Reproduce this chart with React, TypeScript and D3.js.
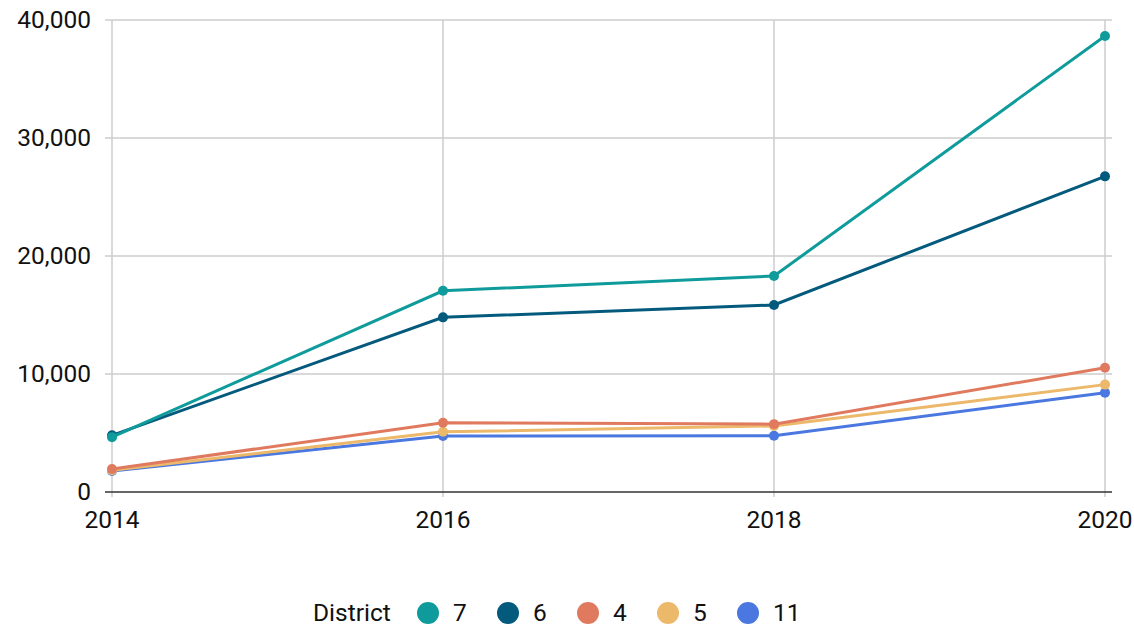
import React, { useEffect, useRef } from "react";
import * as d3 from "d3";

const years = [2014, 2016, 2018, 2020];
const districts = ["7", "6", "4", "5", "11"];
const colors = ["#0f9b9b", "#045a7d", "#e07a5f", "#ecb86a", "#4a78e0"];
const values7 = [4650, 17050, 18300, 38650];
const values6 = [4800, 14800, 15850, 26750];
const values4 = [1950, 5870, 5750, 10530];
const values5 = [1850, 5100, 5600, 9100];
const values11 = [1780, 4750, 4770, 8420];
const yTicks = [0, 10000, 20000, 30000, 40000];

const App = () => {
  const ref = useRef<SVGSVGElement>(null);

  useEffect(() => {
    const svg = d3.select(ref.current);
    svg.selectAll("*").remove();
    const font = "Roboto, sans-serif";
    const fontSize = 24.5;

    const x = d3.scaleLinear().domain([2014, 2020]).range([112, 1105]);
    const y = d3.scaleLinear().domain([0, 40000]).range([492, 20]);

    // gridlines
    svg
      .append("g")
      .selectAll("line")
      .data(yTicks.slice(1))
      .enter()
      .append("line")
      .attr("x1", 105)
      .attr("x2", 1112)
      .attr("y1", (d) => y(d))
      .attr("y2", (d) => y(d))
      .attr("stroke", "#cccccc")
      .attr("stroke-width", 1.5);

    svg
      .append("g")
      .selectAll("line")
      .data(years)
      .enter()
      .append("line")
      .attr("x1", (d) => x(d))
      .attr("x2", (d) => x(d))
      .attr("y1", 20)
      .attr("y2", 497)
      .attr("stroke", "#cccccc")
      .attr("stroke-width", 1.5);

    // baseline
    svg
      .append("line")
      .attr("x1", 105)
      .attr("x2", 1112)
      .attr("y1", y(0))
      .attr("y2", y(0))
      .attr("stroke", "#333333")
      .attr("stroke-width", 1.5);

    // y labels
    svg
      .append("g")
      .selectAll("text")
      .data(yTicks)
      .enter()
      .append("text")
      .attr("x", 91)
      .attr("y", (d) => y(d) + 8)
      .attr("text-anchor", "end")
      .attr("font-family", font)
      .attr("font-size", fontSize)
      .attr("fill", "#111")
      .text((d) => d3.format(",")(d));

    // x labels
    svg
      .append("g")
      .selectAll("text")
      .data(years)
      .enter()
      .append("text")
      .attr("x", (d) => x(d))
      .attr("y", 528)
      .attr("text-anchor", "middle")
      .attr("font-family", font)
      .attr("font-size", fontSize)
      .attr("fill", "#111")
      .text((d) => d);

    const series = [values7, values6, values4, values5, values11];
    const line = d3
      .line<number>()
      .x((_, i) => x(years[i]))
      .y((d) => y(d));

    // draw in reverse so teal sits on top
    series
      .map((vals, i) => ({ vals, color: colors[i] }))
      .reverse()
      .forEach(({ vals, color }) => {
        const g = svg.append("g");
        g.append("path")
          .datum(vals)
          .attr("d", line)
          .attr("fill", "none")
          .attr("stroke", color)
          .attr("stroke-width", 3);
        g.selectAll("circle")
          .data(vals)
          .enter()
          .append("circle")
          .attr("cx", (_, i) => x(years[i]))
          .attr("cy", (d) => y(d))
          .attr("r", 5)
          .attr("fill", color);
      });

    // legend
    const legend = svg.append("g");
    legend
      .append("text")
      .attr("x", 313)
      .attr("y", 621)
      .attr("font-family", font)
      .attr("font-size", fontSize)
      .attr("fill", "#111")
      .text("District");
    districts.forEach((d, i) => {
      const cx = 428 + i * 80;
      legend
        .append("circle")
        .attr("cx", cx)
        .attr("cy", 613)
        .attr("r", 11)
        .attr("fill", colors[i]);
      legend
        .append("text")
        .attr("x", cx + 25)
        .attr("y", 621)
        .attr("font-family", font)
        .attr("font-size", fontSize)
        .attr("fill", "#111")
        .text(d);
    });
  }, []);

  return (
    <svg
      ref={ref}
      width={1134}
      height={626}
      style={{ position: "absolute", left: 0, top: 0, background: "#fff" }}
    />
  );
};

export default App;
